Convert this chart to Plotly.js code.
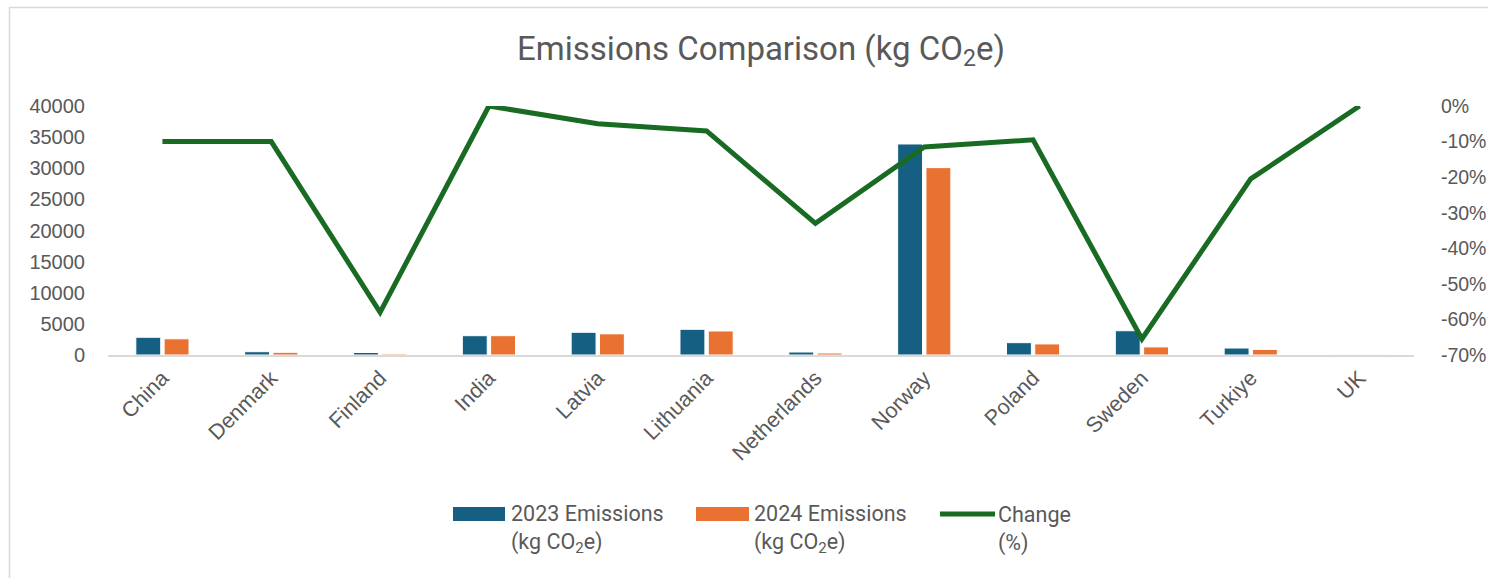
<!DOCTYPE html>
<html>
<head>
<meta charset="utf-8">
<script src="https://cdn.plot.ly/plotly-3.0.1.min.js"></script>
<style>html,body{margin:0;padding:0;background:#fff;}#chart{width:1488px;height:578px;}</style>
</head>
<body>
<div id="chart"></div>
<script>
const countries = ["China","Denmark","Finland","India","Latvia","Lithuania","Netherlands","Norway","Poland","Sweden","Turkiye","UK"];
const emissions2023 = [2850, 530, 400, 3100, 3650, 4130, 480, 33900, 1980, 3900, 1120, 60];
const emissions2024 = [2600, 430, 170, 3100, 3400, 3860, 320, 30100, 1780, 1300, 900, 60];
const changePct = [-0.10, -0.10, -0.58, 0.0, -0.05, -0.07, -0.33, -0.115, -0.095, -0.655, -0.205, 0.0];
const leftTickVals = [0,5000,10000,15000,20000,25000,30000,35000,40000];
const leftTickText = ["0","5000","10000","15000","20000","25000","30000","35000","40000"];
const rightTickVals = [0,-0.1,-0.2,-0.3,-0.4,-0.5,-0.6,-0.7];
const rightTickText = ["0%","-10%","-20%","-30%","-40%","-50%","-60%","-70%"];
const legendLabels = ["2023 Emissions<br>(kg CO<sub>2</sub>e)","2024 Emissions<br>(kg CO<sub>2</sub>e)","Change<br>(%)"];

const C1 = "#156082", C2 = "#E97132", C3 = "#196B24", TXT = "#595959";
const PL = 108, PR = 1414, PT = 106, PB = 355;
const px = v => (v - PL) / (PR - PL);
const py = v => (PB - v) / (PB - PT);
const tickFont = {family: "Liberation Sans, Arial, sans-serif", size: 20, color: TXT};
const rightFont = {family: "Liberation Sans, Arial, sans-serif", size: 19.5, color: TXT};
const xFont = {family: "Liberation Sans, Arial, sans-serif", size: 21.5, color: TXT};
const legFont = {family: "Roboto, sans-serif", size: 21.5, color: TXT};

const traces = [
  {type: "bar", x: countries, y: emissions2023, name: legendLabels[0], marker: {color: C1, line: {color: "#ffffff", width: 1}}, yaxis: "y"},
  {type: "bar", x: countries, y: emissions2024, name: legendLabels[1], marker: {color: C2, line: {color: "#ffffff", width: 1}}, yaxis: "y"},
  {type: "scatter", mode: "lines", x: countries, y: changePct, name: legendLabels[2], line: {color: C3, width: 5}, yaxis: "y2"}
];

const legendY = 529;
const layout = {
  width: 1488, height: 578,
  margin: {l: PL, r: 1488 - PR, t: PT, b: 578 - PB, pad: 0},
  paper_bgcolor: "#ffffff", plot_bgcolor: "#ffffff",
  showlegend: false,
  barmode: "group", bargap: 0.48, bargroupgap: 0.12,
  title: {text: "Emissions Comparison (kg CO<sub>2</sub>e)", font: {family: "Roboto, sans-serif", size: 33, color: TXT}, x: 0.5, xref: "paper", xanchor: "center", y: 1 - 48/578, yanchor: "middle"},
  xaxis: {type: "category", tickangle: -45, tickfont: xFont, showgrid: false, showline: true, linecolor: "#D9D9D9", linewidth: 2, ticks: "", zeroline: false},
  yaxis: {range: [0, 40000], tickvals: leftTickVals, ticktext: leftTickText, tickfont: tickFont, showgrid: false, zeroline: false, ticks: "outside", ticklen: 18, tickcolor: "rgba(0,0,0,0)", showline: false},
  yaxis2: {range: [-0.7, 0], overlaying: "y", side: "right", tickvals: rightTickVals, ticktext: rightTickText, tickfont: rightFont, showgrid: false, zeroline: false, ticks: "outside", ticklen: 22, tickcolor: "rgba(0,0,0,0)", showline: false},
  shapes: [
    {type: "line", xref: "paper", yref: "paper", x0: px(9.5), x1: px(9.5), y0: py(7), y1: py(580), line: {color: "#D9D9D9", width: 1.5}},
    {type: "line", xref: "paper", yref: "paper", x0: px(9), x1: px(1490), y0: py(7.5), y1: py(7.5), line: {color: "#D9D9D9", width: 1.5}},
    {type: "rect", xref: "paper", yref: "paper", x0: px(453), x1: px(505), y0: py(521), y1: py(507), fillcolor: C1, line: {width: 0}},
    {type: "rect", xref: "paper", yref: "paper", x0: px(696), x1: px(749), y0: py(521), y1: py(507), fillcolor: C2, line: {width: 0}},
    {type: "line", xref: "paper", yref: "paper", x0: px(940), x1: px(995), y0: py(514), y1: py(514), line: {color: C3, width: 5}}
  ],
  annotations: [
    {xref: "paper", yref: "paper", x: px(509), y: py(legendY), xanchor: "left", yanchor: "middle", align: "left", showarrow: false, text: legendLabels[0], font: legFont},
    {xref: "paper", yref: "paper", x: px(752), y: py(legendY), xanchor: "left", yanchor: "middle", align: "left", showarrow: false, text: legendLabels[1], font: legFont},
    {xref: "paper", yref: "paper", x: px(996), y: py(legendY), xanchor: "left", yanchor: "middle", align: "left", showarrow: false, text: legendLabels[2], font: legFont}
  ]
};

Plotly.newPlot("chart", traces, layout, {displayModeBar: false, staticPlot: true});
</script>
</body>
</html>
